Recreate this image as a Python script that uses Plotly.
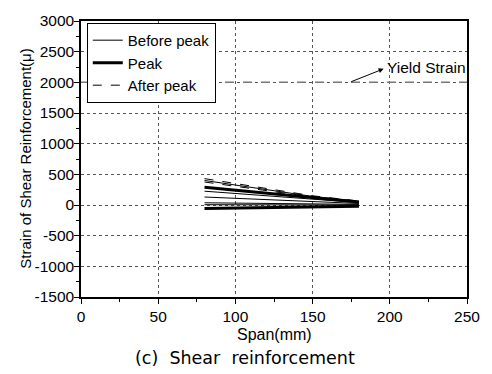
import plotly.graph_objects as go

span = [80, 150, 180]
before_peak = [
    [5, 2, 0],
    [36, 20, 10],
    [130, 60, 25],
    [225, 100, 40],
    [400, 140, 60],
]
peak = [
    [290, 120, 50],
    [-58, -30, -20],
]
after_peak = [
    [430, 150, 65],
    [375, 130, 55],
]
yield_strain = 2000
x_range = [0, 250]
y_range = [-1500, 3000]
x_ticks = [0, 50, 100, 150, 200, 250]
y_ticks = [-1500, -1000, -500, 0, 500, 1000, 1500, 2000, 2500, 3000]

fig = go.Figure()

fig.add_trace(go.Scatter(x=x_range, y=[yield_strain, yield_strain], mode="lines",
                         line=dict(color="#777777", width=1.5, dash="dash"),
                         showlegend=False, hoverinfo="skip"))

for i, ys in enumerate(before_peak):
    fig.add_trace(go.Scatter(x=span, y=ys, mode="lines", name="Before peak",
                             line=dict(color="black", width=1),
                             showlegend=(i == 0), legendrank=1))
for i, ys in enumerate(peak):
    fig.add_trace(go.Scatter(x=span, y=ys, mode="lines", name="Peak",
                             line=dict(color="black", width=3),
                             showlegend=(i == 0), legendrank=2))
for i, ys in enumerate(after_peak):
    fig.add_trace(go.Scatter(x=span, y=ys, mode="lines", name="After peak",
                             line=dict(color="black", width=1, dash="dash"),
                             showlegend=(i == 0), legendrank=3))

font = "Liberation Sans, Arial, sans-serif"
axis_common = dict(showline=True, linecolor="black", linewidth=1.5, mirror=True,
                   ticks="outside", ticklen=5, tickcolor="black", showgrid=True,
                   gridcolor="#555555", griddash="dot", gridwidth=1, zeroline=False,
                   tickfont=dict(size=15.5))
fig.update_layout(
    width=492, height=374,
    margin=dict(l=81, r=14, t=13, b=77),
    paper_bgcolor="white", plot_bgcolor="white",
    font=dict(family=font, size=15, color="black"),
    showlegend=True,
    legend=dict(x=0.015, y=0.993, xanchor="left", yanchor="top",
                bgcolor="white", bordercolor="black", borderwidth=1,
                font=dict(size=15), tracegroupgap=0, itemwidth=30,
                traceorder="normal"),
    xaxis=dict(range=x_range, tickvals=x_ticks, ticktext=[str(v) for v in x_ticks],
               minor=dict(dtick=25, ticks="outside", ticklen=3, tickcolor="black", showgrid=False),
               **axis_common),
    yaxis=dict(range=y_range, tickvals=y_ticks, ticktext=[str(v) for v in y_ticks],
               ticklabelstandoff=-3,
               minor=dict(dtick=250, ticks="outside", ticklen=3, tickcolor="black", showgrid=False),
               **axis_common),
    annotations=[
        dict(x=196, y=2220, ax=174, ay=2000, xref="x", yref="y", axref="x", ayref="y",
             showarrow=True, arrowhead=2, arrowsize=1, arrowwidth=1, arrowcolor="black", text=""),
        dict(x=197, y=2240, xref="x", yref="y", text="Yield Strain", showarrow=False,
             xanchor="left", yanchor="middle", font=dict(size=15.5)),
        dict(x=0.5, y=-0.135, xref="paper", yref="paper", text="Span(mm)", showarrow=False,
             xanchor="center", yanchor="middle", font=dict(size=16)),
        dict(x=-0.146, y=0.5, xref="paper", yref="paper", text="Strain of Shear Reinforcement(μ)",
             showarrow=False, textangle=-90, xanchor="center", yanchor="middle", font=dict(size=15)),
        dict(x=0.426, y=-0.22, xref="paper", yref="paper", text="(c)  Shear  reinforcement",
             showarrow=False, xanchor="center", yanchor="middle",
             font=dict(size=17.5, family="DejaVu Sans, sans-serif")),
    ],
)

fig.write_html("out.html")
